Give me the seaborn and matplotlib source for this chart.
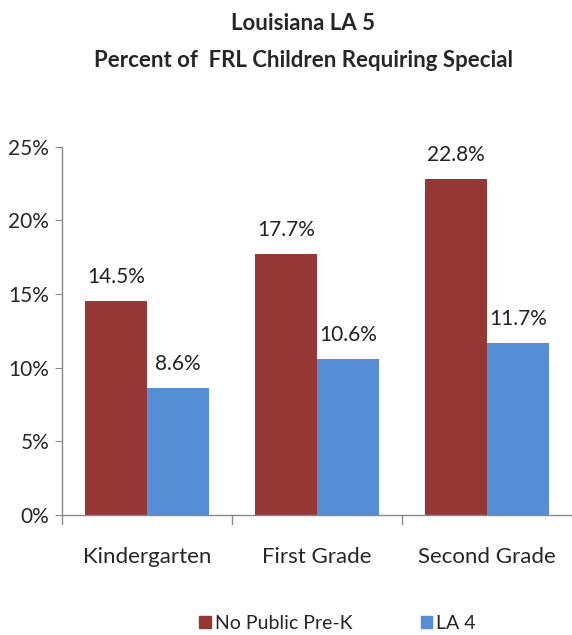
import pandas as pd
import matplotlib
matplotlib.use("Agg")
import matplotlib.pyplot as plt
import seaborn as sns

grades = ["Kindergarten", "First Grade", "Second Grade"]
no_prek = [0.145, 0.177, 0.228]
la4 = [0.086, 0.106, 0.117]
series = ["No Public Pre-K", "LA 4"]
colors = ["#953735", "#558ED5"]

df = pd.DataFrame({
    "grade": grades * 2,
    "group": [series[0]] * 3 + [series[1]] * 3,
    "value": no_prek + la4,
})

sns.set_style("white")
plt.rcParams["font.family"] = ["Lato", "DejaVu Sans"]

fig = plt.figure(figsize=(5.72, 6.35), dpi=100)
ax = fig.add_axes([0.108, 0.189, 0.892, 0.58])

sns.barplot(data=df, x="grade", y="value", hue="group", palette=colors,
            width=0.73, saturation=1, linewidth=0, ax=ax, legend=False)

for cont in ax.containers:
    ax.bar_label(cont, labels=[f"{b.get_height()*100:.1f}%" for b in cont],
                 padding=10, fontsize=15, color="#222222")

ax.set_ylim(0, 0.25)
ax.set_xlim(-0.5, 2.5)
ax.set_yticks([0, 0.05, 0.10, 0.15, 0.20, 0.25])
ax.set_yticklabels(["0%", "5%", "10%", "15%", "20%", "25%"], fontsize=15)
ax.set_xticks([0, 1, 2])
ax.set_xticklabels(grades, fontsize=16)
ax.tick_params(axis="x", length=0, pad=23)
ax.tick_params(axis="y", length=5, color="#888888", left=True, pad=4)
for xb in [-0.5, 0.5, 1.5]:
    ax.plot([xb, xb], [0, -0.006], color="#888888", lw=1, clip_on=False)
ax.set_xlabel("")
ax.set_ylabel("")
for s in ["top", "right"]:
    ax.spines[s].set_visible(False)
for s in ["left", "bottom"]:
    ax.spines[s].set_color("#888888")
    ax.spines[s].set_linewidth(1)

fig.text(0.53, 0.963, "Louisiana LA 5", ha="center", va="center",
         fontsize=16, fontweight="bold")
fig.text(0.53, 0.905, "Percent of  FRL Children Requiring Special", ha="center",
         va="center", fontsize=16, fontweight="bold")

handles = [plt.Rectangle((0, 0), 1, 1, color=c) for c in colors]
fig.legend(handles, series, loc="center", bbox_to_anchor=(0.59, 0.018), ncol=2,
           frameon=False, fontsize=14, handlelength=0.6, handleheight=0.6,
           handletextpad=0.2, columnspacing=3.5)

fig.savefig("out.png", dpi=100)
